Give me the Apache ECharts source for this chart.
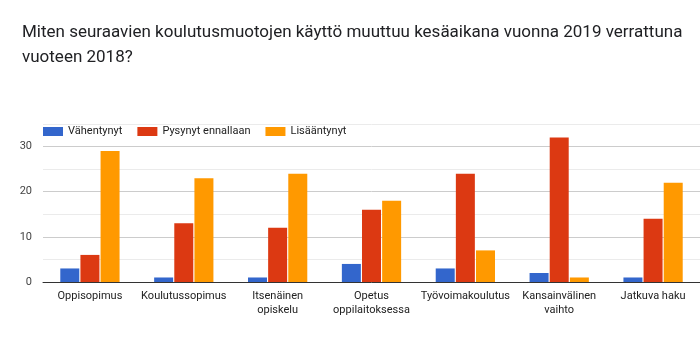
<!DOCTYPE html>
<html><head><meta charset="utf-8">
<script src="https://cdn.jsdelivr.net/npm/echarts@6/dist/echarts.min.js"></script>
<style>html,body{margin:0;padding:0;background:#fff}#c{width:700px;height:346px}</style>
</head><body><div id="c"></div>
<script>
const categories = ['Oppisopimus','Koulutussopimus','Itsenäinen\nopiskelu','Opetus\noppilaitoksessa','Työvoimakoulutus','Kansainvälinen\nvaihto','Jatkuva haku'];
const seriesNames = ['Vähentynyt','Pysynyt ennallaan','Lisääntynyt'];
const vahentynyt = [3,1,1,4,3,2,1];
const pysynyt = [6,13,12,16,24,32,14];
const lisaantynyt = [29,23,24,18,7,1,22];
const colors = ['#3366cc','#dc3912','#ff9900'];
const chart = echarts.init(document.getElementById('c'), null, {renderer:'canvas'});
const dataSets = [vahentynyt, pysynyt, lisaantynyt];
chart.setOption({
  animation:false,
  backgroundColor:'#fff',
  title:{
    text:'Miten seuraavien koulutusmuotojen käyttö muuttuu kesäaikana vuonna 2019 verrattuna\nvuoteen 2018?',
    left:22, top:20, padding:0,
    textStyle:{fontFamily:'Roboto', fontSize:17, fontWeight:'normal', color:'#202124', lineHeight:25}
  },
  legend:{
    left:43, top:126, padding:0, itemWidth:20, itemHeight:9, itemGap:15,
    icon:'rect',
    textStyle:{fontFamily:'Roboto', fontSize:11, color:'#222'},
    data:seriesNames
  },
  grid:{left:43, right:0, top:124, bottom:64},
  xAxis:{
    type:'category', data:categories,
    axisLine:{lineStyle:{color:'#333', width:1}},
    axisTick:{show:false},
    axisLabel:{fontFamily:'Roboto', fontSize:11, color:'#222', lineHeight:14, margin:7, interval:0}
  },
  yAxis:{
    type:'value', min:0, max:35, interval:5,
    axisLine:{show:false}, axisTick:{show:false},
    axisLabel:{fontFamily:'Roboto', fontSize:11, color:'#444', margin:11,
      formatter:function(v){return v%10===0?String(v):'';}},
    splitLine:{lineStyle:{color:['#ccc','#ebebeb','#ccc','#ebebeb','#ccc','#ebebeb','#ccc','#ebebeb']}}
  },
  series: seriesNames.map((n,i)=>({
    name:n, type:'bar', data:dataSets[i], barWidth:19, barGap:'6%',
    itemStyle:{color:colors[i]}
  }))
});
</script></body></html>
